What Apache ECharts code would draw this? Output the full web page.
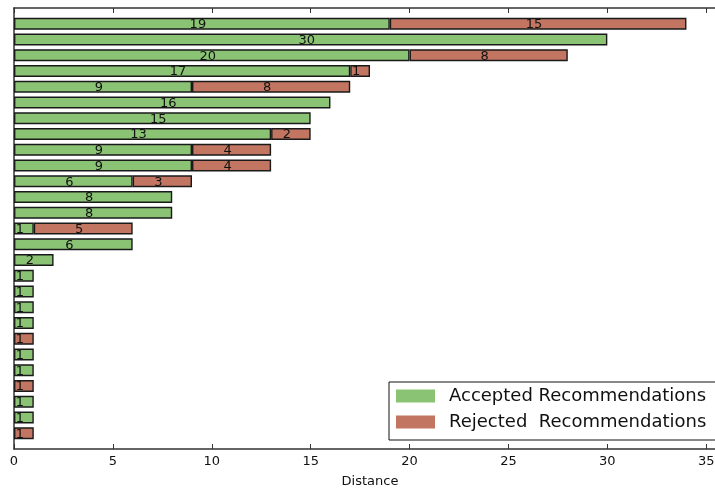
<!DOCTYPE html>
<html>
<head>
<meta charset="utf-8">
<script src="https://cdn.jsdelivr.net/npm/echarts@6/dist/echarts.min.js"></script>
<style>html,body{margin:0;padding:0;background:#fff}#c{width:715px;height:488px}</style>
</head>
<body>
<div id="c"></div>
<script>
// rows from top to bottom (padding slots at both ends are empty)
var rows = ['', 'r1','r2','r3','r4','r5','r6','r7','r8','r9','r10','r11','r12','r13','r14','r15','r16','r17','r18','r19','r20','r21','r22','r23','r24','r25','r26','r27', ''];
var accepted = [null, 19,30,20,17,9,16,15,13,9,9,6,8,8,1,6,2,1,1,1,1,0,1,1,0,1,1,0, null];
var rejected = [null, 15,0,8,1,8,0,0,2,4,4,3,0,0,5,0,0,0,0,0,0,1,0,0,1,0,0,1, null];
var xTicks = [0,5,10,15,20,25,30,35];
var legendNames = ['Accepted Recommendations', 'Rejected  Recommendations'];

function clean(arr){ return arr.map(function(v){ return (v === null || v === 0) ? '-' : v; }); }

var FONT = 'DejaVu Sans';
var AX = '#333';
var chart = echarts.init(document.getElementById('c'), null, {renderer:'canvas'});
var labelCfg = {show:true, position:'inside', color:'#111', fontFamily:FONT, fontSize:13, offset:[-4,1],
  formatter:function(p){ return (p.value===null||p.value===0||p.value==='-') ? '' : String(p.value); }};
chart.setOption({
  animation:false,
  textStyle:{fontFamily:FONT},
  grid:{left:14, top:8, width:712, height:441, containLabel:false, outerBoundsMode:'none'},
  legend:{
    data:legendNames, orient:'vertical', left:389, top:382,
    padding:[5,14,9,7], itemWidth:39, itemHeight:13, itemGap:8,
    borderColor:'#111', borderWidth:1, backgroundColor:'#fff',
    icon:'rect', itemStyle:{borderWidth:0},
    textStyle:{fontFamily:FONT, fontSize:18, color:'#111', padding:[0,0,0,9]}
  },
  xAxis:[{
    type:'value', min:0, max:36, interval:5, position:'bottom',
    name:'Distance', nameLocation:'middle', nameGap:26,
    nameTextStyle:{fontFamily:FONT, fontSize:13, color:'#111'},
    axisLine:{show:true, lineStyle:{color:AX, width:1.5}},
    axisTick:{show:true, inside:true, length:5, lineStyle:{color:AX}},
    axisLabel:{show:true, fontFamily:FONT, fontSize:13, color:'#111', margin:6, showMaxLabel:false,
      formatter:function(v){ return xTicks.indexOf(v) >= 0 ? String(v) : ''; }},
    splitLine:{show:false}
  },{
    type:'value', min:0, max:36, interval:5, position:'top',
    axisLine:{show:true, lineStyle:{color:AX, width:1.5}},
    axisTick:{show:true, inside:true, length:5, lineStyle:{color:AX}},
    axisLabel:{show:false}, splitLine:{show:false}
  }],
  yAxis:{
    type:'category', data:rows, inverse:true, boundaryGap:false,
    axisLine:{show:true, lineStyle:{color:AX, width:1.5}},
    axisTick:{show:false}, axisLabel:{show:false}, splitLine:{show:false}
  },
  series:[{
    name:legendNames[0], type:'bar', stack:'s', barWidth:12, data:clean(accepted),
    itemStyle:{color:'#8bc375', borderColor:'#1a1a1a', borderWidth:1.4},
    label:labelCfg
  },{
    name:legendNames[1], type:'bar', stack:'s', barWidth:12, data:clean(rejected),
    itemStyle:{color:'#c27561', borderColor:'#1a1a1a', borderWidth:1.4},
    label:labelCfg
  }]
});
</script>
</body>
</html>
